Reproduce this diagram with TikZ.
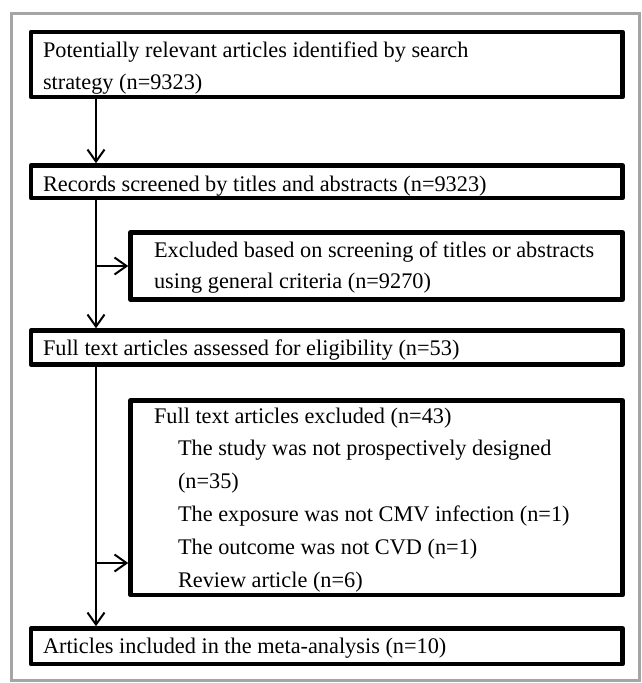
\documentclass[tikz,border=0pt]{standalone}
\usepackage{fontspec}
\setmainfont{Liberation Serif}
\usetikzlibrary{arrows.meta}
\definecolor{framegray}{RGB}{165,165,165}
\tikzset{
  box/.style={draw=black, line width=4.5pt, inner sep=0pt, outer sep=auto, line join=round},
  txt/.style={anchor=base west, inner sep=0pt, outer sep=0pt, font=\fontsize{22.3}{32}\selectfont},
  arr/.style={draw=black, line width=2pt, -{Straight Barb[length=12pt,width=17pt,line width=2pt]}},
  trunk/.style={draw=black, line width=2pt}
}
\begin{document}
\begin{tikzpicture}[x=1pt,y=-1pt]
\useasboundingbox (0,0) rectangle (641,683);
\draw[framegray, line width=3pt] (11.5,13.5) rectangle (639.5,680.5);

% boxes
\node[box, minimum width=591.5pt, minimum height=65pt] (b1) at (326.75,64.5) {};
\node[box, minimum width=591.5pt, minimum height=32.5pt] (b2) at (326.75,181.75) {};
\node[box, minimum width=492pt, minimum height=67pt] (b3) at (376.5,266) {};
\node[box, minimum width=591.5pt, minimum height=34pt] (b4) at (326.75,347.5) {};
\node[box, minimum width=492pt, minimum height=194.5pt] (b5) at (376.5,497.75) {};
\node[box, minimum width=591.5pt, minimum height=35.5pt] (b6) at (326.75,646.25) {};

% texts
\node[txt] (t1a) at (43,57.8) {Potentially relevant articles identified by search};
\node[txt] (t1b) at (43,89.8) {strategy (n=9323)};
\node[txt] (t2) at (43,191) {Records screened by titles and abstracts (n=9323)};
\node[txt] (t3a) at (154,257) {Excluded based on screening of titles or abstracts};
\node[txt] (t3b) at (154,288.3) {using general criteria (n=9270)};
\node[txt] (t4) at (43,355) {Full text articles assessed for eligibility (n=53)};
\node[txt] (t5a) at (154,423) {Full text articles excluded (n=43)};
\node[txt] (t5b) at (178,455.8) {The study was not prospectively designed};
\node[txt] (t5c) at (178,488.6) {(n=35)};
\node[txt] (t5d) at (178,521.4) {The exposure was not CMV infection (n=1)};
\node[txt] (t5e) at (178,554.2) {The outcome was not CVD (n=1)};
\node[txt] (t5f) at (178,587) {Review article (n=6)};
\node[txt] (t6) at (43,653) {Articles included in the meta-analysis (n=10)};

% connectors
\coordinate (tx) at (96,0);
\coordinate (j1) at (96,266);
\coordinate (j2) at (96,563);
\draw[arr] (tx |- b1.south) -- (tx |- b2.north);
\draw[arr] (tx |- b2.south) -- (tx |- b4.north);
\draw[arr] (j1) -- (j1 -| b3.west);
\draw[arr] (tx |- b4.south) -- (tx |- b6.north);
\draw[arr] (j2) -- (j2 -| b5.west);
\end{tikzpicture}
\end{document}
